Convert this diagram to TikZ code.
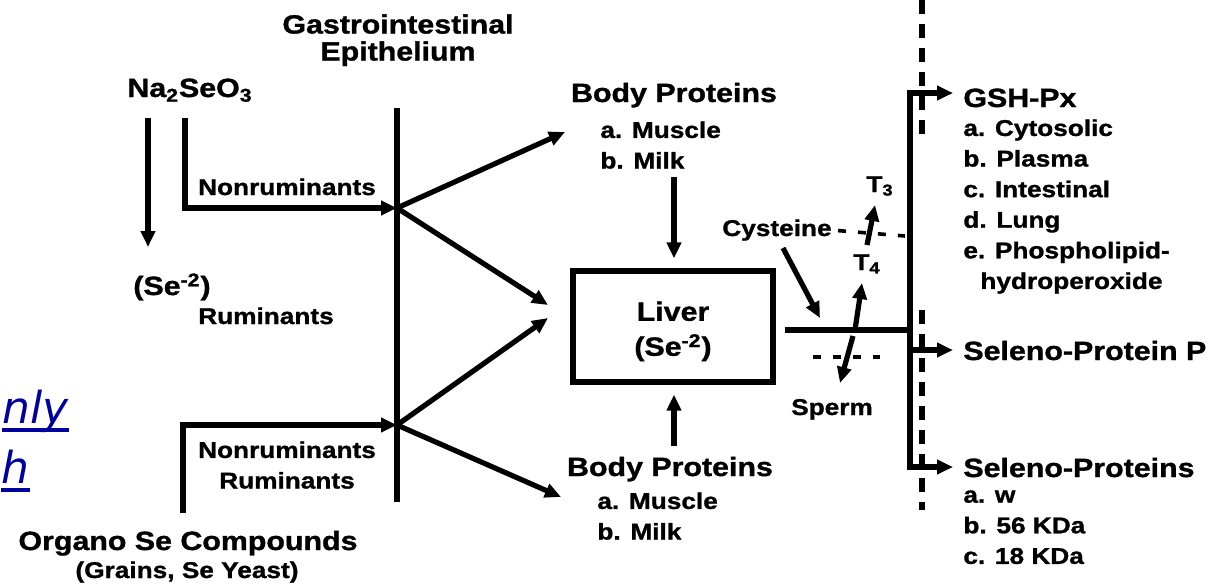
\documentclass[tikz,border=0pt]{standalone}
\usepackage{fontspec}
\usepackage{tikz}
\usetikzlibrary{arrows.meta, positioning, calc}
\newfontfamily\diagfont[FakeStretch=1.15, BoldFeatures={FakeBold=1.2}]{Liberation Sans}
\newfontfamily\linkfont{DejaVu Sans}
\definecolor{linkblue}{RGB}{0,0,160}
\newcommand{\headfont}{\diagfont\bfseries\fontsize{13.2}{13.5}\selectfont}
\newcommand{\itemfont}{\diagfont\bfseries\fontsize{11.4}{15.3}\selectfont}

\begin{document}
\begin{tikzpicture}[
    x=0.5pt, y=-0.5pt,
    head/.style={font=\headfont, inner sep=0pt},
    item/.style={font=\itemfont, inner sep=0pt, align=left},
    organ/.style={rectangle, draw=black, line width=2.6pt, minimum width=100pt, minimum height=55.5pt, font=\headfont, align=center},
    link/.style={font=\linkfont\itshape\fontsize{22}{22}\selectfont, text=linkblue, inner sep=0pt},
    line/.style={line width=2.6pt},
    arrow/.style={line width=2.6pt, -{Triangle[length=8pt, width=7pt]}},
    dashline/.style={line width=1.8pt, dash pattern=on 4pt off 6pt},
    barrier/.style={line width=2.6pt, dash pattern=on 7pt off 5pt}
]
\useasboundingbox (0,0) rectangle (1227,585);

% Nodes
\node[head, align=center, anchor=north] (gi) at (398,14) {Gastrointestinal\\Epithelium};
\node[head, anchor=base] (naseo) at (190,97) {Na\textsubscript{2}SeO\textsubscript{3}};
\node[head, anchor=base] (sered) at (172,295) {(Se\textsuperscript{-2})};
\node[item, anchor=base] (rumtop) at (266,324) {Ruminants};
\node[item, anchor=base] (nonrumtop) at (287,195) {Nonruminants};
\node[item, align=center, anchor=north] (rumbot) at (287,441) {Nonruminants\\Ruminants};
\node[head, anchor=base] (organo) at (188,550) {Organo Se Compounds};
\node[item, anchor=base] (grains) at (187,578) {(Grains, Se Yeast)};

\node[head, anchor=base] (bptop) at (674,102) {Body Proteins};
\node[item, anchor=north west] (bptoplist) at (600,121) {a. Muscle\\b. Milk};
\node[organ] (liver) at (673,326.5) {\rule{0pt}{14.5pt}Liver\\[4pt](Se\textsuperscript{-2})};
\node[head, anchor=base] (bpbot) at (670,476) {Body Proteins};
\node[item, anchor=north west] (bpbotlist) at (597,492) {a. Muscle\\b. Milk};

\node[item, anchor=base] (cyst) at (777,236) {Cysteine};
\node[item, anchor=base west] (tthree) at (866,192) {T\textsubscript{3}};
\node[item, anchor=base west] (tfour) at (853,270) {T\textsubscript{4}};
\node[item, anchor=base] (sperm) at (832,415) {Sperm};

\node[head, anchor=base west] (gsh) at (963,107) {GSH-Px};
\node[item, anchor=north west] (gshlist) at (963,119) {a. Cytosolic\\b. Plasma\\c. Intestinal\\d. Lung\\e. Phospholipid-\\\hspace*{8.5pt}hydroperoxide};
\node[head, anchor=base west] (selp) at (963,360) {Seleno-Protein P};
\node[head, anchor=base west] (selps) at (963,477) {Seleno-Proteins};
\node[item, anchor=north west] (selpslist) at (963,490) {a. w\\b. 56 KDa\\c. 18 KDa};

\node[link, anchor=base west] (lnkone) at (2,423) {nly};
\node[link, anchor=base west] (lnktwo) at (1,483) {h};

% Coordinates
\coordinate (nadown) at (148,118);
\coordinate (setop) at (148,247);
\coordinate (naturn) at (185,118);
\coordinate (orgturn) at (183,513);
\coordinate (gitop) at (397,108);
\coordinate (gibot) at (397,502);
\coordinate (jtop) at (397,208);
\coordinate (jbot) at (397,425);
\coordinate (bpin) at (565,132);
\coordinate (livinone) at (548,305);
\coordinate (livintwo) at (548,318);
\coordinate (bpbotin) at (561,497);
\coordinate (bpdown) at (674,177);
\coordinate (bpup) at (674,446);
\coordinate (lvout) at (785,330);
\coordinate (vjoin) at (910,330);
\coordinate (vmid) at (910,350);
\coordinate (gshin) at (953,93);
\coordinate (selpin) at (953,350);
\coordinate (selpsin) at (953,467);
\coordinate (barone) at (922,0);
\coordinate (bartwo) at (922,135);
\coordinate (barthree) at (922,310);
\coordinate (barfour) at (922,510);
\coordinate (cysstart) at (783,248);
\coordinate (cysin) at (820,318);
\coordinate (cysdash) at (905,236);
\coordinate (tfourbase) at (855,330);
\coordinate (tfourtip) at (862,283);
\coordinate (tthreebase) at (867,245);
\coordinate (tthreetip) at (875,205);
\coordinate (spbase) at (853,336);
\coordinate (sptip) at (840,383);
\coordinate (spdashl) at (813,357);
\coordinate (spdashr) at (880,357);

% Arrows
\draw[line] (gitop) -- (gibot);
\draw[arrow] (nadown) -- (setop);
\draw[arrow] (naturn) |- (jtop);
\draw[arrow] (orgturn) |- (jbot);
\draw[arrow] (jtop) -- (bpin);
\draw[arrow] (jtop) -- (livinone);
\draw[arrow] (jbot) -- (livintwo);
\draw[arrow] (jbot) -- (bpbotin);
\draw[arrow, shorten >=5pt] (bpdown) -- (bpdown |- liver.north);
\draw[arrow, shorten >=5pt] (bpup) -- (bpup |- liver.south);

\draw[line] (lvout) -- (vjoin);
\draw[arrow] (vjoin) |- (gshin);
\draw[arrow] (vjoin) |- (selpsin);
\draw[arrow] (vmid) -- (selpin);
\draw[barrier] (barone) -- (bartwo);
\draw[barrier] (barthree) -- (barfour);

\draw[arrow] (cysstart) -- (cysin);
\draw[dashline, shorten <=3pt] (cyst.east) -- (cysdash);
\draw[arrow] (tfourbase) -- (tfourtip);
\draw[arrow] (tthreebase) -- (tthreetip);
\draw[arrow] (spbase) -- (sptip);
\draw[dashline] (spdashl) -- (spdashr);

\draw[linkblue, line width=2pt] ($(lnkone.base west)+(0,7)$) -- ($(lnkone.base east)+(0,7)$);
\draw[linkblue, line width=2pt] ($(lnktwo.base west)+(0,7)$) -- ($(lnktwo.base east)+(0,7)$);

\end{tikzpicture}
\end{document}
